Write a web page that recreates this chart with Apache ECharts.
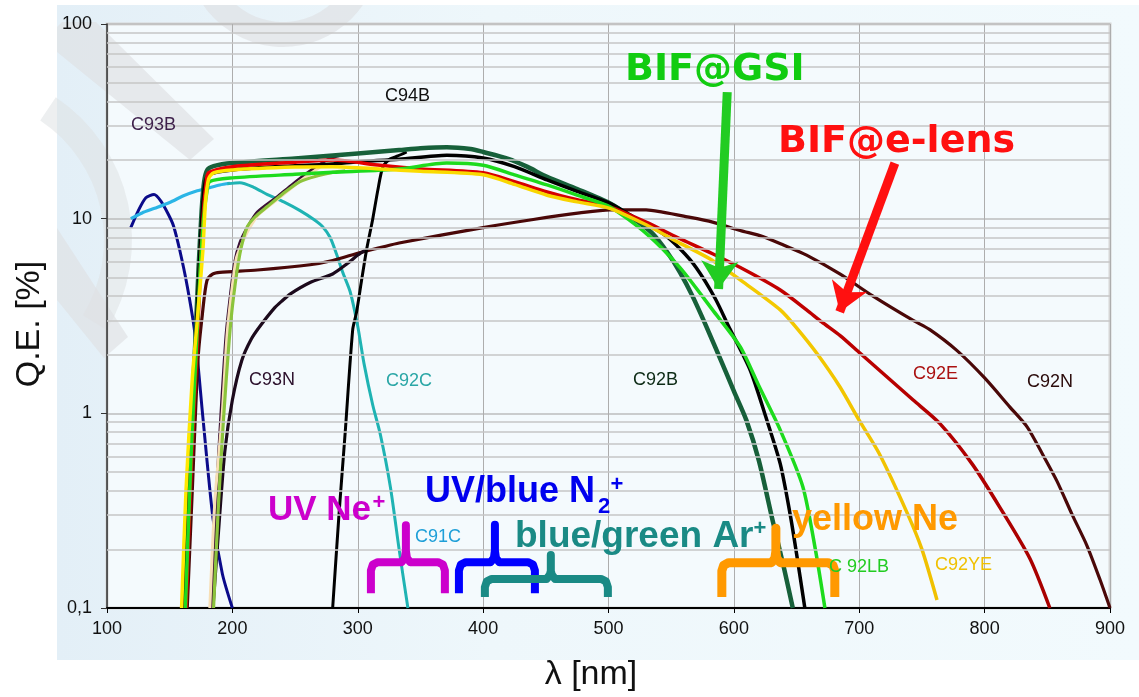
<!DOCTYPE html>
<html><head><meta charset="utf-8">
<script src="https://cdn.jsdelivr.net/npm/echarts@6/dist/echarts.min.js"></script>
<style>html,body{margin:0;padding:0;background:#fff}#c{width:1139px;height:697px}</style>
</head><body><div id="c"></div>
<script>
// ---- tick labels ----
const yTickLabels = {'0.1': '0,1', '1': '1', '10': '10', '100': '100'};
const minorGridValues = [0.2,0.3,0.4,0.5,0.6,0.7,0.8,0.9,2,3,4,5,6,7,8,9,20,30,40,50,60,70,80,90];

// ---- curves: [wavelength nm, Q.E. %] ----
const c93b = [[119,9],[125,11],[131,12.8],[137.5,13.3],[143,12.3],[149,10.5],[153,9.2],[158,6.9],[164,4.5],[170,2.6],[176.5,0.95],[184.5,0.29],[192,0.15],[200,0.1]];
const c91c = [[119,10],[128,10.7],[138,11.3],[150,12.1],[161,13.1],[172,13.9],[181,14.4],[190,14.9],[198,15.2]];
const c92c = [[196,15.1],[206,15.3],[217,14.5],[228,13.3],[241,12.2],[254,11.0],[265,9.9],[272,9.1],[278,8.0],[283,6.6],[288,5.3],[294,4.2],[300,2.8],[305,1.8],[312,1.1],[318,0.78],[326,0.42],[333,0.2],[340,0.1]];
const darkGreen = [[161.5,0.1],[166,0.6],[170,2],[173,5.5],[175.5,11],[177.5,15.5],[180,17.8],[185,18.6],[200,19.3],[250,20.4],[280,21.1],[300,21.6],[333,22.5],[350,23],[371,23.3],[390,22.8],[400,22],[420,20.3],[435,18.5],[451,16.4],[475,14.2],[501,12],[520,10],[535,8.4],[547,6.7],[557,5.3],[567,4.0],[578.5,2.75],[590,1.85],[600,1.3],[610,0.92],[620,0.57],[631,0.28],[640,0.16],[647,0.1]];
const blackMain = [[162,0.1],[166.5,0.6],[170.5,2],[173.5,5.5],[176,11],[178,15],[181,16.8],[200,17.8],[250,18.7],[280,19.1],[300,19.6],[333,20.2],[371,21.2],[400,20.5],[425,18.5],[451,15.8],[475,13.8],[501,12],[520,10.2],[543,8.4],[557,7],[570,5.6],[585,3.9],[597,2.7],[613,1.67],[625,0.98],[637,0.55],[645,0.3],[650,0.19],[656.6,0.1]];
const c92lb = [[162.5,0.1],[167,0.6],[171,2],[174,5],[177,10],[179.5,13.5],[182,15.5],[200,16.2],[250,16.9],[280,17.3],[333,18],[371,19.3],[400,18.8],[425,16.8],[451,14.9],[475,13.2],[501,11.5],[530,8.4],[557,5.6],[583,3.4],[605,2.2],[620,1.38],[637,0.82],[655,0.42],[665,0.2],[672.6,0.1]];
const c92e = [[163,0.1],[167.5,0.6],[171.5,2],[174.5,5.5],[177,11],[179,15],[181,17.2],[200,18.5],[250,19.5],[280,20],[318,18.8],[350,18],[400,17.2],[425,15.5],[451,13.7],[475,12.5],[501,11.5],[530,9.6],[555,8.0],[583,6.6],[610,5.4],[637,4.3],[658,3.4],[670,2.95],[685,2.5],[700.5,2.04],[724,1.5],[743,1.17],[764,0.89],[790,0.55],[812,0.33],[836,0.18],[852,0.1]];
const c92ye = [[159.5,0.1],[163,0.4],[168,1.5],[172,3],[176.5,6.9],[178.5,12],[181,16],[185,17.2],[200,17.8],[250,18.4],[280,18.5],[318,18],[350,17.5],[400,16.8],[425,15],[451,13.2],[475,12.2],[501,11.3],[530,9.3],[555,7.6],[583,6.1],[610,4.6],[637,3.4],[650,2.75],[667,2.0],[684.5,1.37],[700,0.92],[716,0.62],[738,0.31],[750,0.2],[762,0.11]];
const c92n = [[164,0.1],[168,0.4],[172.6,1.9],[176,3.2],[179.7,4.8],[184.5,5.2],[190,5.3],[220,5.45],[262,5.8],[280,6.1],[302,6.7],[318,7.1],[333,7.5],[400,9.0],[440,9.9],[477,10.7],[501,11.1],[530,11.1],[543,10.8],[560,10.3],[583,9.6],[605,8.7],[623,8.1],[640,7.3],[658,6.5],[684.5,5.2],[711,4.0],[743,3.0],[756,2.7],[778,2.1],[800,1.52],[820,1.08],[834,0.85],[846,0.62],[857.6,0.45],[870,0.3],[881.5,0.21],[892,0.14],[900,0.1]];
const c93n = [[184.5,0.1],[189,0.25],[194,0.64],[200,1.17],[207.5,1.87],[215,2.4],[222,2.8],[234,3.5],[240,3.8],[246,4.1],[262,4.7],[280,5.2],[292,5.9],[300,6.5],[306,6.9]];
const darkPurple = [[183,0.1],[187,0.35],[191,1],[195,2.5],[198,3.8],[202,6],[206,7.5],[212,9],[220,10.8],[235.5,12.9],[248,15],[259.5,17.1],[270,19],[279,20.5],[288,21.3]];
const cream = [[182,0.1],[186,0.35],[191.7,0.95],[195.7,2.5],[199,4],[203,6.2],[207,7.3],[213,8.8],[221,10.5],[237,12.7],[250,14.9],[261,16.8],[271,18.6],[280,19.8]];
const lime = [[185,0.1],[189,0.35],[193,0.95],[197.5,2.4],[201,4],[206,6.6],[211.6,9],[218,10.2],[227.6,11.5],[240,13.4],[254,15.5],[268,16.6],[280,17.3],[290,17.6]];
const c94b = [[280,0.1],[285,0.3],[290,0.8],[296,2.7],[299,3.3],[303,4.8],[307,6.9],[312,10],[316,14],[320,18.4],[326,20.3],[332,21],[339,22]];

// ---- annotation braces and arrows: [nm, %] ----
const braceUvNe = [[310.5,0.119],[310.5,0.156],[312,0.167],[316,0.172],[335,0.172],[337.6,0.181],[338.4,0.197],[338.4,0.266],[338.4,0.197],[339.2,0.181],[341.8,0.172],[364,0.172],[368,0.167],[369.5,0.156],[369.5,0.119]];
const braceN2 = [[380.7,0.119],[380.7,0.156],[382.2,0.167],[386.2,0.172],[406,0.172],[408.6,0.181],[409.4,0.197],[409.4,0.268],[409.4,0.197],[410.2,0.181],[412.8,0.172],[435.8,0.172],[439.8,0.167],[441.3,0.156],[441.3,0.119]];
const braceAr = [[401.4,0.114],[401.4,0.128],[402.9,0.137],[406.9,0.141],[450.6,0.141],[453.2,0.148],[454,0.155],[454,0.187],[454,0.155],[454.8,0.148],[457.4,0.141],[494,0.141],[498,0.137],[499.5,0.128],[499.5,0.114]];
const braceNe = [[590.4,0.114],[590.4,0.155],[591.9,0.166],[595.9,0.171],[630.1,0.171],[632.7,0.18],[633.5,0.196],[633.5,0.257],[633.5,0.196],[634.3,0.18],[636.9,0.171],[675,0.171],[679,0.166],[680.5,0.155],[680.5,0.114]];
const gsiArrow = [[594.7,44.7],[587.8,4.35]];
const eLensArrow = [[728.4,19.3],[684.4,3.32]];

const FONT = 'Liberation Sans';

function curve(name, data, color, width, z) {
  return {name, type:'line', data, showSymbol:false, smooth:0.25, z: z || 3,
    lineStyle:{color, width: width || 3.2, join:'round'}, silent:true};
}
function brace(data, color, width) {
  return {type:'line', data, showSymbol:false, smooth:false, z:6, silent:true,
    lineStyle:{color, width: width || 8, cap:'butt', join:'round'}};
}
function txt(text, x, y, color, size, opts) {
  opts = opts || {};
  return {type:'text', x, y, z:20, rotation: opts.rot || 0,
    style:{text, fill:color, font:(opts.bold?'bold ':'') + size + 'px "' + (opts.family || FONT) + '"',
      align: opts.align || 'left', verticalAlign:'middle'}};
}
const WM = '#DEE1E4';

const chart = echarts.init(document.getElementById('c'), null, {renderer:'canvas'});
const option = {
  animation:false,
  backgroundColor:'#ffffff',
  grid:{left:107, right:29, top:24, bottom:89, show:true, borderColor:'#D5D5D5', borderWidth:3, backgroundColor:'transparent'},
  xAxis:{type:'value', min:100, max:900, interval:100,
    axisLine:{show:true, onZero:false, lineStyle:{color:'#000', width:2}},
    axisTick:{show:true, length:5, lineStyle:{color:'#000', width:1}},
    axisLabel:{fontSize:18, fontFamily:FONT, color:'#111', margin:12},
    splitLine:{show:true, lineStyle:{color:'#ADADAD', width:1}}},
  yAxis:{type:'log', logBase:10, min:0.1, max:100,
    axisLine:{show:true, lineStyle:{color:'#333', width:1.5}},
    axisTick:{show:true, length:6, lineStyle:{color:'#333'}},
    axisLabel:{fontSize:18, fontFamily:FONT, color:'#111', margin:15,
      formatter: v => yTickLabels[String(+v.toPrecision(6))] || String(v)},
    splitLine:{show:true, lineStyle:{color:'#BDBDBD', width:1.5}}},
  graphic:[
    {type:'rect', shape:{x:57, y:5, width:1082, height:655}, z:-10, silent:true,
      style:{fill:new echarts.graphic.LinearGradient(0,0,1,0,[{offset:0,color:'#E3EFF7'},{offset:0.4,color:'#EEF7FB'},{offset:1,color:'#F2FAFD'}])}},
    {type:'rect', shape:{x:107, y:24, width:1003, height:584}, z:-9, silent:true, style:{fill:'#F4FAFD'}},
    {type:'sector', shape:{cx:283, cy:-50, r:97, r0:72, startAngle:0.3, endAngle:2.85}, z:-8, silent:true, style:{fill:WM, opacity:0.65}},
    {type:'polygon', shape:{points:[[62,22],[96,22],[214,139],[190,160],[57,52],[57,27]]}, z:-8, silent:true, style:{fill:WM, opacity:0.65}},
    {type:'sector', shape:{cx:-40, cy:240, r:172, r0:144, startAngle:-0.98, endAngle:0.55}, z:-8, silent:true, style:{fill:WM, opacity:0.55}},
    {type:'polygon', shape:{points:[[57,228],[128,337],[104,358],[57,300]]}, z:-8, silent:true, style:{fill:WM, opacity:0.65}},
    {type:'rect', shape:{x:0, y:0, width:1139, height:5}, z:-7, silent:true, style:{fill:'#ffffff'}},
    // axis names
    txt('Q.E. [%]', 30, 324, '#111', 34, {rot:Math.PI/2, align:'center'}),
    txt('λ [nm]', 591, 675, '#111', 34, {align:'center'}),
    // curve labels
    txt('C93B', 131, 125, '#3D1F4A', 18),
    txt('C94B', 385, 96, '#111', 18),
    txt('C93N', 249, 380, '#2B0F2B', 18),
    txt('C92C', 386, 381, '#2AA6A6', 18),
    txt('C92B', 633, 380, '#0D2B16', 18),
    txt('C92E', 913, 374, '#AA1111', 18),
    txt('C92N', 1027, 382, '#2A0A0A', 18),
    txt('C91C', 415, 537, '#1E9FD8', 18),
    txt('C 92LB', 829, 567, '#22CC22', 18),
    txt('C92YE', 935, 565, '#F0C000', 18),
    // big annotations
    txt('BIF@GSI', 625, 70, '#11CC11', 38, {bold:true, family:'DejaVu Sans'}),
    txt('BIF@e-lens', 778, 142, '#FF1010', 38, {bold:true, family:'DejaVu Sans'}),
    txt('UV Ne', 268, 510, '#CC00CC', 35, {bold:true}),
    txt('+', 379, 503, '#CC00CC', 22, {bold:true, align:'center'}),
    txt('UV/blue N', 425, 492, '#0000EE', 36, {bold:true}),
    txt('2', 604, 507, '#0000EE', 22, {bold:true, align:'center'}),
    txt('+', 617, 485, '#0000EE', 22, {bold:true, align:'center'}),
    txt('blue/green Ar', 515, 537, '#1A8A85', 37, {bold:true}),
    txt('+', 760, 529, '#1A8A85', 22, {bold:true, align:'center'}),
    txt('yellow Ne', 792, 520, '#FF9900', 36, {bold:true})
  ],
  series:[
    {type:'line', data:[[100,0.1]], showSymbol:false, lineStyle:{opacity:0}, z:1, silent:true,
      markLine:{silent:true, symbol:'none', label:{show:false}, animation:false,
        lineStyle:{color:'#C6C6C6', width:1.5, type:'solid'},
        data: minorGridValues.map(v => ({yAxis:v}))}},
    curve('C93B', c93b, '#0B0B8A', 3),
    curve('C91C', c91c, '#2BB5E6', 3.2),
    curve('C92C', c92c, '#1FB3B3', 3),
    curve('C92N', c92n, '#4A0808', 3.2),
    curve('C93N', c93n, '#1C0A1C', 3.2),
    curve('C94B', c94b, '#000000', 3),
    curve('C93x', darkPurple, '#3A1035', 3.2),
    curve('cream', cream, '#F7DFB5', 3),
    curve('lime', lime, '#8CC43C', 3.2),
    curve('C92B', darkGreen, '#17603A', 4.5, 4),
    curve('black', blackMain, '#000000', 3.5, 4),
    curve('C92E', c92e, new echarts.graphic.LinearGradient(0,0,1,0,[{offset:0,color:'#F00000'},{offset:0.45,color:'#D40000'},{offset:1,color:'#A80000'}]), 3.5, 4),
    curve('C92LB', c92lb, '#1DDB1D', 3.5, 4),
    curve('C92YE', c92ye, new echarts.graphic.LinearGradient(0,0,1,0,[{offset:0,color:'#FFE800'},{offset:0.5,color:'#F8D400'},{offset:1,color:'#F0C000'}]), 3.5, 4),
    brace(braceUvNe, '#CC00CC', 8),
    brace(braceN2, '#0000FF', 8),
    brace(braceAr, '#1A8A85', 8),
    brace(braceNe, '#FF9900', 9),
    {type:'lines', coordinateSystem:'cartesian2d', symbol:['none','arrow'], symbolSize:28, z:8, silent:true,
      lineStyle:{color:'#22CC22', width:9, opacity:1, curveness:0}, data:[{coords:gsiArrow}]},
    {type:'lines', coordinateSystem:'cartesian2d', symbol:['none','arrow'], symbolSize:28, z:8, silent:true,
      lineStyle:{color:'#FF1010', width:9, opacity:1, curveness:0}, data:[{coords:eLensArrow}]}
  ]
};
chart.setOption(option);
</script>
</body></html>
